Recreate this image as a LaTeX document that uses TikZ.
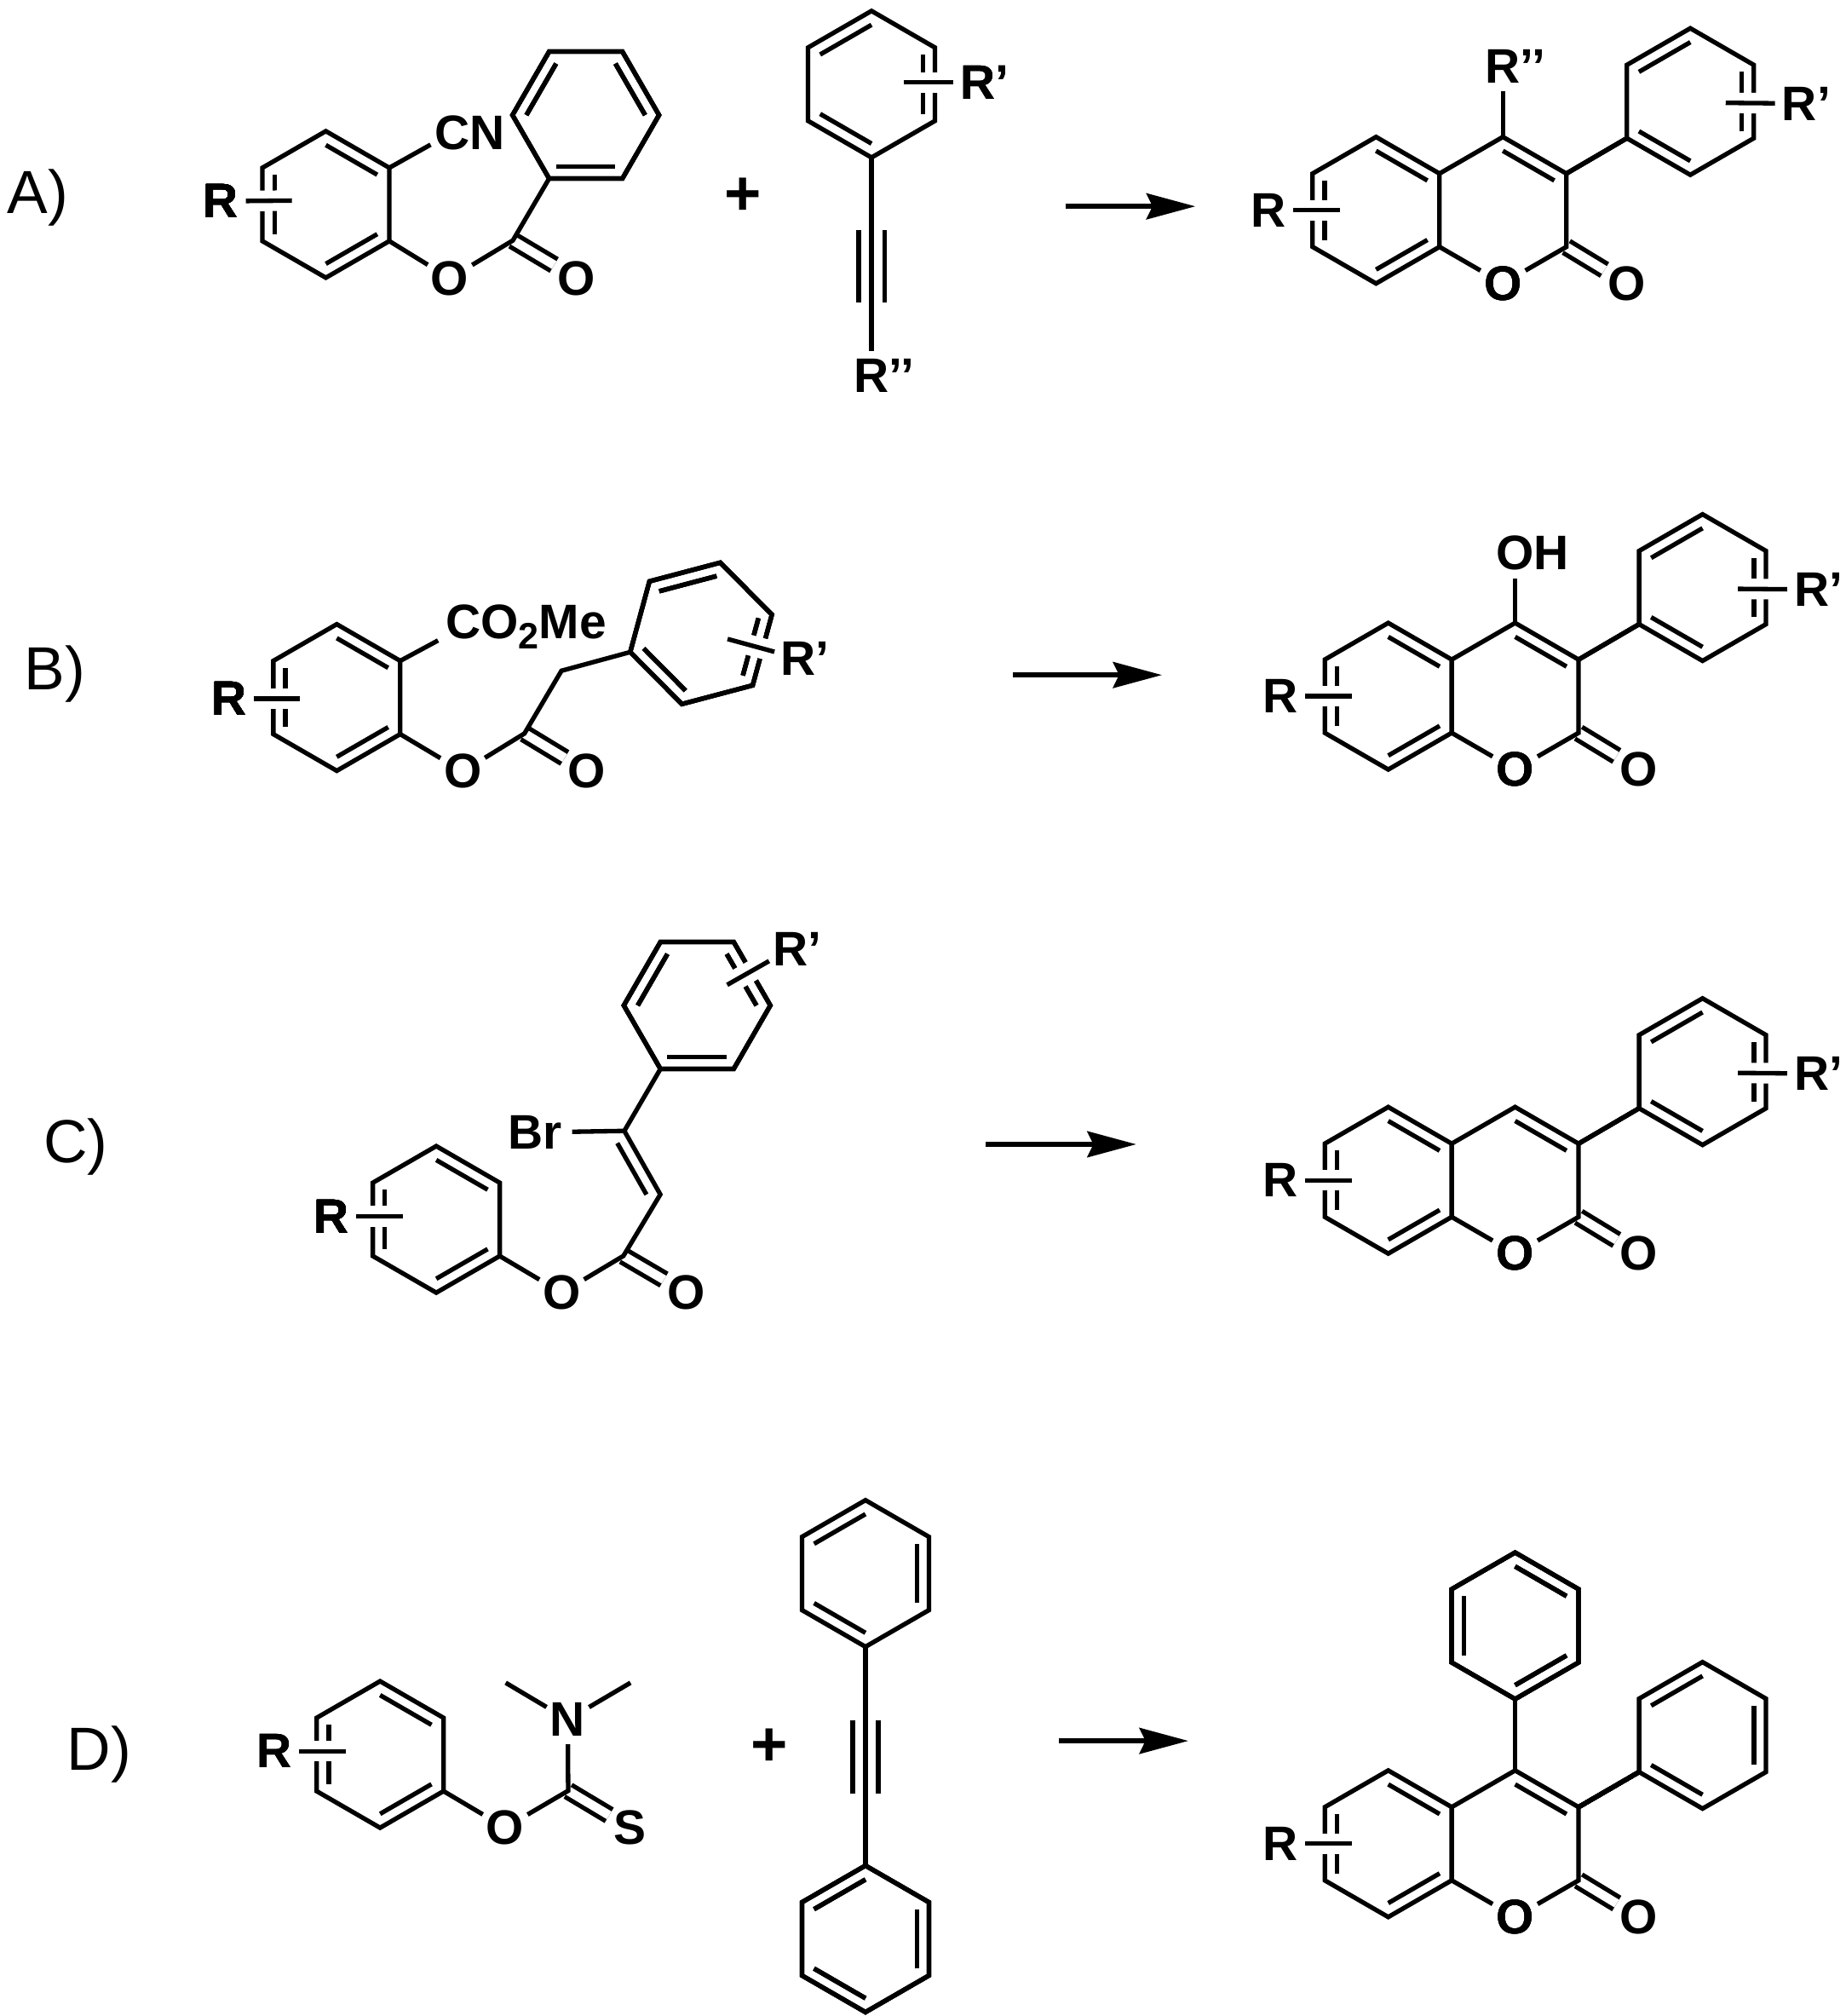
\documentclass[tikz,border=0pt]{standalone}
\usepackage{fontspec}
\setmainfont{Liberation Sans}
\usetikzlibrary{arrows.meta,calc}

\tikzset{
  bond/.style={line width=1.5pt},
  dbl/.style={line width=1.5pt,double,double distance=0.105cm},
  subst/.style={line width=1.5pt,preaction={draw=white,line width=0.24cm}},
  rxn/.style={line width=1.8pt,-{Stealth[length=0.57cm,width=0.3cm,inset=0.07cm]}},
  atom/.style={circle,inner sep=0pt,font=\bfseries\fontsize{16.1}{18}\selectfont},
  lab/.style={inner sep=0pt,font=\fontsize{20.2}{22}\selectfont},
  plusn/.style={inner sep=0pt,font=\bfseries\fontsize{21}{22}\selectfont}
}

% inner line of a double bond, pulled towards the ring centre
\newcommand{\inbond}[3]{\draw[bond] ($(#1#2)!0.19!(#1c)$) -- ($(#1#3)!0.19!(#1c)$);}
\newcommand{\ringpts}[4]{%
  \coordinate (#1c) at ({#2},{#3});
  \foreach \i in {1,...,6}
    \coordinate (#1\i) at ({#2+57*cos(#4+60*\i-60)},{#3-57*sin(#4+60*\i-60)});
}
\newcommand{\hexring}[5]{%
  \ringpts{#1}{#2}{#3}{#4}
  \draw[bond] (#11) -- (#12) -- (#13) -- (#14) -- (#15) -- (#16) -- cycle;
  \foreach \i/\j in {#5} \inbond{#1}{\i}{\j}
}
\newcommand{\coumarin}[3]{%
  \hexring{#1b}{#2}{#3}{90}{1/6,2/3,4/5}
  \ringpts{#1p}{#2+98.7}{#3}{90}
  \node[atom] (#1O) at (#1p4) {O};
  \node[atom] (#1Oc) at (#2+195,#3+57) {O};
  \node[atom] (#1R) at (#2-84,#3) {R};
  \coordinate (#1x) at (#2-28,#3);
  \draw[dbl] (#1p5) -- (#1Oc);
  \draw[bond] (#1b6) -- (#1p1) -- (#1p6) -- (#1p5) -- (#1O) -- (#1b5);
  \inbond{#1p}{1}{6}
  \draw[subst] (#1R) -- (#1x);
}
% phenyl at C3 carrying R'
\newcommand{\arylR}[3]{%
  \hexring{#1a}{#2+244.5}{#3-84.5}{90}{1/2,3/4,5/6}
  \draw[bond] (#1p6) -- (#1a3);
  \node[atom] (#1Rp) at (#2+329.5,#3-83) {R\rlap{’}};
  \coordinate (#1xa) at (#2+272,#3-83.5);
  \draw[subst] (#1xa) -- (#1Rp);
}
\newcommand{\alkyne}[2]{%
  \draw[bond] ([xshift=0.15cm]#1) -- ([xshift=0.15cm]#2);
  \draw[bond] ([xshift=-0.15cm]#1) -- ([xshift=-0.15cm]#2);
}

\begin{document}
\begin{tikzpicture}[x=0.015cm,y=-0.015cm]
  \useasboundingbox (0,0) rectangle (1436,1568);
  % row labels
  \node[lab] (lblA) at (29.5,154) {A)};
  \node[lab] (lblB) at (42.5,524) {B)};
  \node[lab] (lblC) at (59,892) {C)};
  \node[lab] (lblD) at (77,1364.5) {D)};

  % ---- A ----
  \hexring{a}{253.5}{159}{90}{1/6,2/3,4/5}
  \hexring{b}{455.7}{89.5}{0}{5/6,3/4,1/2}
  \node[atom] (aR) at (172,156.5) {R};
  \coordinate (ax) at (227,156);
  \node[atom] (aCN) at (352,103) {C\rlap{N}};
  \node[atom] (aO) at (350,216.5) {O};
  \coordinate (aC) at (399,187);
  \node[atom] (aOc) at (448.5,216.5) {O};
  \draw[dbl] (aC) -- (aOc);
  \draw[bond] (a5) -- (aO) -- (aC) -- (b5);
  \draw[bond] (a6) -- (aCN);
  \draw[subst] (aR) -- (ax);
  \node[plusn] (plusA) at (578,153) {+};
  % alkyne
  \hexring{e}{678}{65.5}{90}{1/2,3/4,5/6}
  \node[atom] (eRp) at (761,64) {R\rlap{’}};
  \coordinate (ex) at (703,64);
  \draw[subst] (ex) -- (eRp);
  \node[atom] (eRq) at (678,292) {R\rlap{’’}};
  \coordinate (et1) at (678,179);
  \coordinate (et2) at (678,235);
  \draw[bond] (e4) -- (eRq);
  \alkyne{et1}{et2}
  \coordinate (arA) at (829,160.5);
  \coordinate (arAe) at (930,160.5);
  \draw[rxn] (arA) -- (arAe);
  % product
  \coumarin{pa}{1070.5}{163.5}
  \arylR{pa}{1070.5}{163.5}
  \node[atom] (paRq) at (1169.2,51.5) {R\rlap{’’}};
  \draw[bond] (pap1) -- (paRq);

  % ---- B ----
  \hexring{c}{262}{542.5}{90}{1/6,2/3,4/5}
  \hexring{g}{545.4}{492.6}{14.8}{2/3,4/5,6/1}
  \node[atom] (cR) at (178,543.5) {R};
  \coordinate (cx) at (233.5,543.5);
  \node[atom] (cE) at (360.5,487.5) {C\rlap{O\raisebox{-0.22em}{\fontsize{12.2}{12}\selectfont 2}Me}};
  \node[atom] (cO) at (360,600) {O};
  \coordinate (cC) at (408,570.5);
  \node[atom] (cOc) at (456.6,600) {O};
  \coordinate (cH) at (436.8,521.7);
  \draw[dbl] (cC) -- (cOc);
  \draw[bond] (c5) -- (cO) -- (cC) -- (cH) -- (g4);
  \draw[bond] (c6) -- (cE);
  \draw[subst] (cR) -- (cx);
  \node[atom] (gRp) at (621,512) {R\rlap{’}};
  \coordinate (gx) at (566,497);
  \draw[subst] (gx) -- (gRp);
  \coordinate (arB) at (788,525);
  \coordinate (arBe) at (904,525);
  \draw[rxn] (arB) -- (arBe);
  % product
  \coumarin{pb}{1080}{541.5}
  \arylR{pb}{1080}{541.5}
  \node[atom] (pbOH) at (1178.7,430) {O\rlap{H}};
  \draw[bond] (pbp1) -- (pbOH);

  % ---- C ----
  \hexring{f}{339.4}{948.4}{90}{1/6,2/3,4/5}
  \hexring{h}{542.3}{782}{0}{5/6,3/4,1/2}
  \node[atom] (fR) at (258,946) {R};
  \coordinate (fx) at (313.6,946);
  \node[atom] (fO) at (437,1005.5) {O};
  \coordinate (fC) at (485,976.8);
  \node[atom] (fOc) at (534,1005.5) {O};
  \coordinate (fV) at (513.7,929);
  \coordinate (fB) at (485.7,879.6);
  \coordinate (fVc) at (457,929.5);
  \node[atom] (fBr) at (429.7,880.5) {\llap{B}r};
  \draw[dbl] (fC) -- (fOc);
  \draw[bond] (f5) -- (fO) -- (fC) -- (fV) -- (fB) -- (h5);
  \draw[bond] (fBr) -- (fB);
  \draw[bond] ($(fV)!0.19!(fVc)$) -- ($(fB)!0.19!(fVc)$);
  \draw[subst] (fR) -- (fx);
  \node[atom] (hRp) at (615,738) {R\rlap{’}};
  \coordinate (hx) at (565.7,766);
  \draw[subst] (hx) -- (hRp);
  \coordinate (arC) at (767,890);
  \coordinate (arCe) at (884,890);
  \draw[rxn] (arC) -- (arCe);
  % product
  \coumarin{pc}{1080}{918}
  \arylR{pc}{1080}{918}

  % ---- D ----
  \hexring{k}{295.7}{1364.6}{90}{1/6,2/3,4/5}
  \node[atom] (kR) at (213.6,1362) {R};
  \coordinate (kx) at (269,1362);
  \node[atom] (kO) at (393,1421.5) {O};
  \coordinate (kC) at (442,1392.8);
  \node[atom] (kS) at (490,1421.5) {S};
  \node[atom] (kN) at (441.7,1337.5) {N};
  \coordinate (kMe1) at (393.4,1308.8);
  \coordinate (kMe2) at (490.5,1308.8);
  \draw[dbl] (kC) -- (kS);
  \draw[bond] (k5) -- (kO) -- (kC) -- (kN);
  \draw[bond] (kN) -- (kMe1);
  \draw[bond] (kN) -- (kMe2);
  \draw[subst] (kR) -- (kx);
  \node[plusn] (plusD) at (598.7,1359) {+};
  % diphenylacetylene
  \hexring{m}{673.3}{1223.8}{90}{1/2,3/4,5/6}
  \hexring{n}{673.3}{1508}{90}{1/2,3/4,5/6}
  \coordinate (mt1) at (673.3,1338);
  \coordinate (mt2) at (673.3,1395);
  \draw[bond] (m4) -- (n1);
  \alkyne{mt1}{mt2}
  \coordinate (arD) at (824,1354);
  \coordinate (arDe) at (924.5,1354);
  \draw[rxn] (arD) -- (arDe);
  % product
  \coumarin{pd}{1080}{1434}
  \hexring{pda}{1324.5}{1349.7}{90}{1/2,3/4,5/6}
  \hexring{pdt}{1178.7}{1264.5}{90}{1/6,2/3,4/5}
  \draw[bond] (pdp6) -- (pda3);
  \draw[bond] (pdp1) -- (pdt4);
\end{tikzpicture}
\end{document}
